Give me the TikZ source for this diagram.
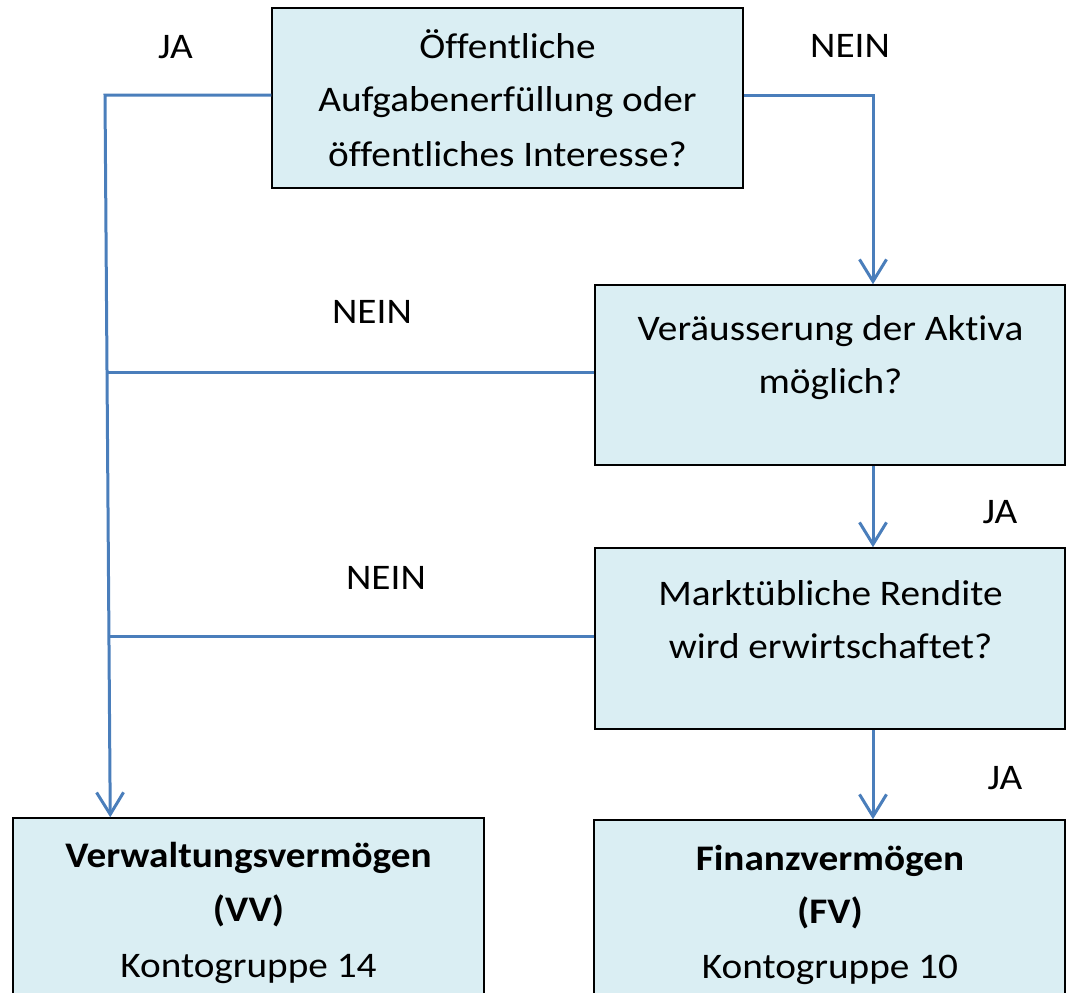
\documentclass[tikz,border=0pt]{standalone}
\usepackage{fontspec}
\setmainfont{Carlito}[FakeStretch=1.09, RawFeature={-liga}]
\usetikzlibrary{arrows.meta,calc}
\definecolor{boxfill}{HTML}{DAEEF3}
\definecolor{linkblue}{HTML}{4A7EBB}
\tikzset{
  box/.style={draw=black, line width=1.5pt, fill=boxfill, minimum width=471pt, inner sep=0pt},
  txt/.style={font=\fontsize{36}{54}\selectfont, anchor=base, inner sep=0pt},
  btxt/.style={font=\fontsize{36}{54}\selectfont\bfseries, anchor=base, inner sep=0pt},
  link/.style={draw=linkblue, line width=3pt},
  arrowlink/.style={link, -{Straight Barb[length=22pt,width=27pt,line width=3pt]}}
}
\begin{document}
\begin{tikzpicture}[x=1pt,y=-1pt]
\useasboundingbox (0,0) rectangle (1066,993);
\clip (0,0) rectangle (1066,993);
% boxes
\node[box, minimum height=180pt] (top) at (507.5,98) {};
\node[box, minimum width=470pt, minimum height=180pt] (mid) at (830,375) {};
\node[box, minimum width=470pt, minimum height=181pt] (mkt) at (830,638.5) {};
\node[box, minimum height=200pt] (vv) at (248.5,918) {};
\node[box, minimum height=200pt] (fv) at (829.5,920) {};
% box texts
\node[txt] (t1) at (507.5,58) {Öffentliche};
\node[txt] (t2) at (507.5,111) {Aufgabenerfüllung oder};
\node[txt] (t3) at (507.5,166) {öffentliches Interesse?};
\node[txt] (m1) at (830.5,340) {Veräusserung der Aktiva};
\node[txt] (m2) at (830.5,393) {möglich?};
\node[txt] (k1) at (830.5,605) {Marktübliche Rendite};
\node[txt] (k2) at (830.5,658) {wird erwirtschaftet?};
\node[btxt] (v1) at (248.5,867) {Verwaltungsvermögen};
\node[btxt] (v2) at (248.5,921) {(VV)};
\node[txt] (v3) at (248.5,977) {Kontogruppe 14};
\node[btxt] (f1) at (830,870) {Finanzvermögen};
\node[btxt] (f2) at (830,923) {(FV)};
\node[txt] (f3) at (830,978) {Kontogruppe 10};
% labels
\node[txt] (ja1) at (175.5,58) {JA};
\node[txt] (nein1) at (850,57) {NEIN};
\node[txt] (nein2) at (372,323) {NEIN};
\node[txt] (ja2) at (1000,523) {JA};
\node[txt] (nein3) at (386,589) {NEIN};
\node[txt] (ja3) at (1005,789) {JA};
% connector points
\coordinate (jl) at (105,95);
\coordinate (jr) at (873,95);
\coordinate (j2) at (107.3,372);
\coordinate (j3) at (109.3,636);
% connectors
\draw[arrowlink] ([yshift=3pt]top.west) -- (jl) -- ($(vv.north west)+(98,0)$);
\draw[link] ([yshift=3pt]mid.west) -- (j2);
\draw[link] ([yshift=2.5pt]mkt.west) -- (j3);
\draw[arrowlink] ([yshift=3pt]top.east) -- (jr) -- ([xshift=43pt]mid.north);
\draw[arrowlink] ([xshift=43pt]mid.south) -- ([xshift=43pt]mkt.north);
\draw[arrowlink] ([xshift=43pt]mkt.south) -- ([xshift=43.5pt]fv.north);
\end{tikzpicture}
\end{document}
